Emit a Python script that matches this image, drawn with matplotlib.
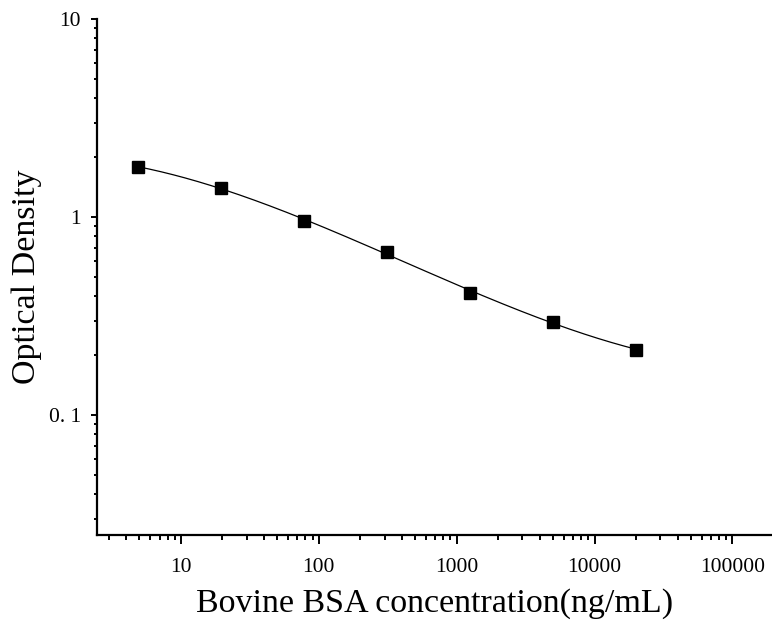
import numpy as np
import matplotlib
matplotlib.use("Agg")
import matplotlib.pyplot as plt
from matplotlib.ticker import LogLocator, FixedLocator, NullFormatter

# Data
conc = [4.88, 19.5, 78.1, 312.5, 1250, 5000, 20000]
od = [1.789, 1.408, 0.954, 0.665, 0.415, 0.296, 0.214]

xticks = [10, 100, 1000, 10000, 100000]
xticklabels = ["10", "100", "1000", "10000", "100000"]
yticks = [0.1, 1, 10]
yticklabels = ["0. 1", "1", "10"]

plt.rcParams['font.family'] = ['Liberation Serif', 'DejaVu Serif']

fig = plt.figure(figsize=(7.72, 6.21), dpi=100)
ax = fig.add_axes([97/772, 1-535/621, (771.5-97)/772, (535-19)/621])

# smooth fitted curve (cubic fit in log-log space)
lx = np.log10(conc)
ly = np.log10(od)
coef = np.polyfit(lx, ly, 3)
xs = np.linspace(lx[0], lx[-1], 300)
ax.plot(10**xs, 10**np.polyval(coef, xs), color='black', lw=0.9, zorder=2)
ax.plot(conc, od, linestyle='none', marker='s', ms=8.5, color='black', zorder=3)

ax.set_xscale('log')
ax.set_yscale('log')
ax.set_xlim(2.46, 192000)
ax.set_ylim(0.0248, 10)

ax.spines['top'].set_visible(False)
ax.spines['right'].set_visible(False)
for s in ['left', 'bottom']:
    ax.spines[s].set_linewidth(1.6)

ax.xaxis.set_major_locator(FixedLocator(xticks))
ax.set_xticklabels(xticklabels)
ax.yaxis.set_major_locator(FixedLocator(yticks))
ax.set_yticklabels(yticklabels)
ax.xaxis.set_minor_locator(LogLocator(base=10, subs=np.arange(2, 10), numticks=20))
ax.yaxis.set_minor_locator(LogLocator(base=10, subs=np.arange(2, 10), numticks=20))
ax.xaxis.set_minor_formatter(NullFormatter())
ax.yaxis.set_minor_formatter(NullFormatter())

ax.tick_params(axis='x', which='major', direction='out', length=6.5, width=1.4, labelsize=15.5, pad=10)
ax.tick_params(axis='x', which='minor', direction='out', length=3.5, width=1.4)
ax.tick_params(axis='y', which='major', direction='out', length=4.5, width=1.4, labelsize=15.5, pad=7)
ax.tick_params(axis='y', which='minor', direction='out', length=2.5, width=1.4)

ax.set_xlabel("Bovine BSA concentration(ng/mL)", fontsize=24.5, labelpad=8)
ax.set_ylabel("Optical Density", fontsize=24.5, labelpad=5)

fig.savefig("out.png", dpi=100)
